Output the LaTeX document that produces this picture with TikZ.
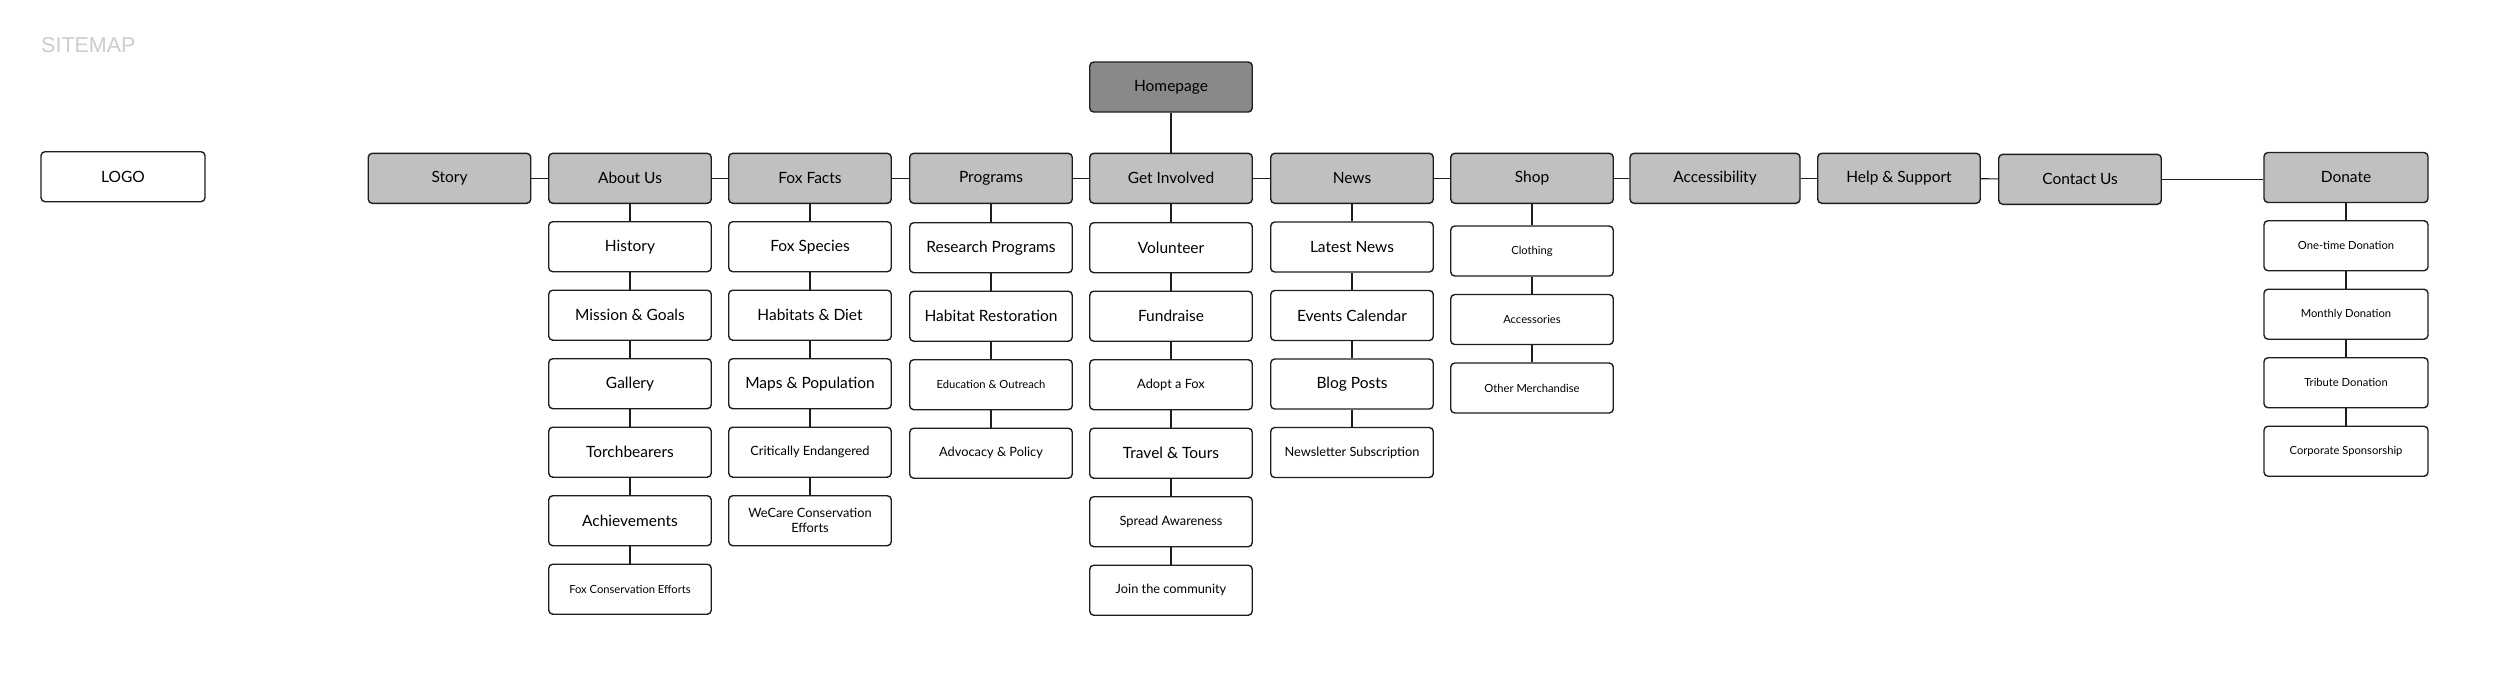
\documentclass[tikz,border=0pt]{standalone}
\usepackage{fontspec}
\setmainfont{Lato}
\newfontfamily\titlefont{Liberation Sans}
\definecolor{navgray}{HTML}{C0C0C0}
\definecolor{homegray}{HTML}{898989}
\definecolor{edge}{HTML}{1E1E1E}
\definecolor{titlegray}{HTML}{CDCDCD}
\begin{document}
\begin{tikzpicture}[x=1pt,y=-1pt,
  box/.style={draw=edge,line width=1.4pt,rounded corners=4pt,minimum width=162.5pt,minimum height=50pt,inner sep=0pt,align=center,text=black},
  navbox/.style={box,fill=navgray,font=\fontsize{15.5}{18}\selectfont},
  homebox/.style={box,fill=homegray,font=\fontsize{15.5}{18}\selectfont},
  subbig/.style={box,fill=white,font=\fontsize{15.5}{18}\selectfont},
  submed/.style={box,fill=white,font=\fontsize{12.8}{15}\selectfont},
  subsmall/.style={box,fill=white,font=\fontsize{11.2}{14}\selectfont},
  link/.style={draw=edge,line width=1.1pt}]
\useasboundingbox (0,0) rectangle (2498,673);
\fill[white] (0,0) rectangle (2498,673);

\node[anchor=west,text=titlegray,font=\titlefont\fontsize{21.5}{24}\selectfont,inner sep=0pt] (title) at (41,45.5) {SITEMAP};

\node[subbig,fill=white,minimum width=164pt] (logo) at (123,176.7) {LOGO};

\node[homebox] (home) at (1171,87) {Homepage};

% navigation row
\node[navbox] (story) at (449.5,178.3) {Story};
\node[navbox] (about) at (630,178.3) {About Us};
\node[navbox] (facts) at (810,178.3) {Fox Facts};
\node[navbox] (prog) at (991,178.3) {Programs};
\node[navbox] (inv) at (1171,178.3) {Get Involved};
\node[navbox] (news) at (1352,178.3) {News};
\node[navbox] (shop) at (1532,178.3) {Shop};
\node[navbox,minimum width=170pt] (acc) at (1715,178.3) {Accessibility};
\node[navbox] (help) at (1899,178.3) {Help \& Support};
\node[navbox] (contact) at (2080,179.3) {Contact Us};
\node[navbox,minimum width=164pt] (donate) at (2346,177.5) {Donate};

% About Us
\node[subbig] (a1) at (630,246.7) {History};
\node[subbig] (a2) at (630,315.2) {Mission \& Goals};
\node[subbig] (a3) at (630,383.7) {Gallery};
\node[subbig] (a4) at (630,452.2) {Torchbearers};
\node[subbig] (a5) at (630,520.7) {Achievements};
\node[subsmall] (a6) at (630,589.2) {Fox Conservation Efforts};

% Fox Facts
\node[subbig] (f1) at (810,246.7) {Fox Species};
\node[subbig] (f2) at (810,315.2) {Habitats \& Diet};
\node[subbig] (f3) at (810,383.7) {Maps \& Population};
\node[submed] (f4) at (810,452.2) {Critically Endangered};
\node[submed] (f5) at (810,520.7) {WeCare Conservation\\Efforts};

% Programs
\node[subbig] (p1) at (991,247.7) {Research Programs};
\node[subbig] (p2) at (991,316.2) {Habitat Restoration};
\node[subsmall] (p3) at (991,384.7) {Education \& Outreach};
\node[submed] (p4) at (991,453.2) {Advocacy \& Policy};

% Get Involved
\node[subbig] (g1) at (1171,247.7) {Volunteer};
\node[subbig] (g2) at (1171,316.2) {Fundraise};
\node[submed] (g3) at (1171,384.7) {Adopt a Fox};
\node[subbig] (g4) at (1171,453.2) {Travel \& Tours};
\node[submed] (g5) at (1171,521.7) {Spread Awareness};
\node[submed] (g6) at (1171,590.2) {Join the community};

% News
\node[subbig] (n1) at (1352,247) {Latest News};
\node[subbig] (n2) at (1352,315.5) {Events Calendar};
\node[subbig] (n3) at (1352,384) {Blog Posts};
\node[submed] (n4) at (1352,452.5) {Newsletter Subscription};

% Shop
\node[subsmall] (s1) at (1532,251) {Clothing};
\node[subsmall] (s2) at (1532,319.5) {Accessories};
\node[subsmall] (s3) at (1532,388) {Other Merchandise};

% Donate
\node[subsmall,minimum width=164pt] (d1) at (2346,245.7) {One-time Donation};
\node[subsmall,minimum width=164pt] (d2) at (2346,314.2) {Monthly Donation};
\node[subsmall,minimum width=164pt] (d3) at (2346,382.7) {Tribute Donation};
\node[subsmall,minimum width=164pt] (d4) at (2346,451.2) {Corporate Sponsorship};

% connectors
\draw[link] (home) -- (inv);
\draw[link] (story) -- (about);
\draw[link] (about) -- (facts);
\draw[link] (facts) -- (prog);
\draw[link] (prog) -- (inv);
\draw[link] (inv) -- (news);
\draw[link] (news) -- (shop);
\draw[link] (shop) -- (acc);
\draw[link] (acc) -- (help);
\draw[link] (help) -- (contact);
\draw[link] (contact.east) -- (donate.west |- contact.east);

\draw[link] (about) -- (a1);
\draw[link] (a1) -- (a2);
\draw[link] (a2) -- (a3);
\draw[link] (a3) -- (a4);
\draw[link] (a4) -- (a5);
\draw[link] (a5) -- (a6);

\draw[link] (facts) -- (f1);
\draw[link] (f1) -- (f2);
\draw[link] (f2) -- (f3);
\draw[link] (f3) -- (f4);
\draw[link] (f4) -- (f5);

\draw[link] (prog) -- (p1);
\draw[link] (p1) -- (p2);
\draw[link] (p2) -- (p3);
\draw[link] (p3) -- (p4);

\draw[link] (inv) -- (g1);
\draw[link] (g1) -- (g2);
\draw[link] (g2) -- (g3);
\draw[link] (g3) -- (g4);
\draw[link] (g4) -- (g5);
\draw[link] (g5) -- (g6);

\draw[link] (news) -- (n1);
\draw[link] (n1) -- (n2);
\draw[link] (n2) -- (n3);
\draw[link] (n3) -- (n4);

\draw[link] (shop) -- (s1);
\draw[link] (s1) -- (s2);
\draw[link] (s2) -- (s3);

\draw[link] (donate) -- (d1);
\draw[link] (d1) -- (d2);
\draw[link] (d2) -- (d3);
\draw[link] (d3) -- (d4);
\end{tikzpicture}
\end{document}
